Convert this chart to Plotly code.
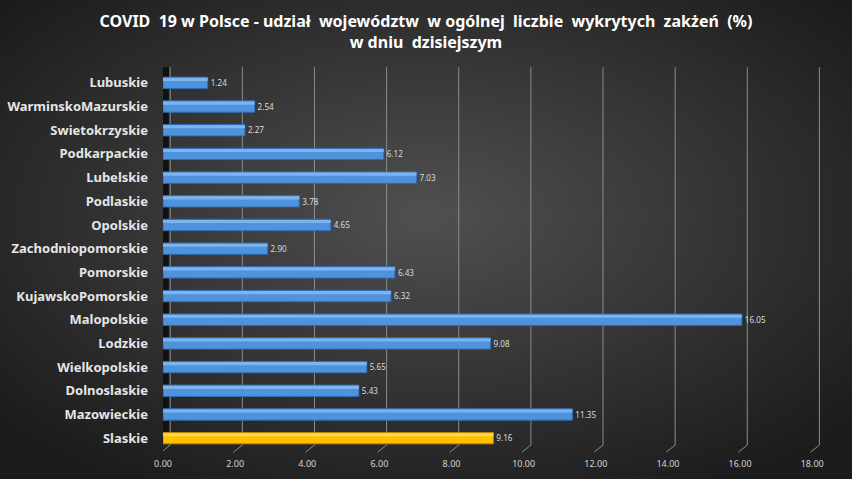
import plotly.graph_objects as go
import urllib.parse

regions = ["Lubuskie", "WarminskoMazurskie", "Swietokrzyskie", "Podkarpackie", "Lubelskie",
           "Podlaskie", "Opolskie", "Zachodniopomorskie", "Pomorskie", "KujawskoPomorskie",
           "Malopolskie", "Lodzkie", "Wielkopolskie", "Dolnoslaskie", "Mazowieckie", "Slaskie"]
shares = [1.24, 2.54, 2.27, 6.12, 7.03, 3.78, 4.65, 2.90, 6.43, 6.32,
          16.05, 9.08, 5.65, 5.43, 11.35, 9.16]
tick_vals = [0, 2, 4, 6, 8, 10, 12, 14, 16, 18]
tick_text = ["0.00", "2.00", "4.00", "6.00", "8.00", "10.00", "12.00", "14.00", "16.00", "18.00"]
highlight = "Slaskie"

colors = ["#ffc000" if r == highlight else "#4f93dc" for r in regions]
edges = ["#b88a00" if r == highlight else "#2f6db5" for r in regions]
shine = ["#ffd34d" if r == highlight else "#7bb4ee" for r in regions]

W, H = 852, 479
ML, MR, MT, MB = 163, 29, 71, 29
PW, PH = W - ML - MR, H - MT - MB

svg = ('<svg xmlns="http://www.w3.org/2000/svg" width="852" height="479" preserveAspectRatio="none">'
       '<defs><radialGradient id="g" cx="50%" cy="45%" r="65%">'
       '<stop offset="0%" stop-color="#505050"/><stop offset="100%" stop-color="#1c1c1c"/>'
       '</radialGradient></defs><rect width="852" height="479" fill="url(#g)"/></svg>')
bg_uri = "data:image/svg+xml;charset=utf-8," + urllib.parse.quote(svg)

fig = go.Figure()
fig.add_trace(go.Bar(
    y=regions, x=shares, orientation="h",
    marker=dict(color=colors, line=dict(color=edges, width=1)),
    width=0.48, offset=-0.24,
    text=[f"{v:.2f}" for v in shares], textposition="outside",
    textfont=dict(family="Noto Sans", size=10, color="#dcdcdc"),
    cliponaxis=False, hoverinfo="skip",
))
# lighter upper face for a bevelled look
fig.add_trace(go.Bar(
    y=regions, x=shares, orientation="h",
    marker=dict(color=shine, line=dict(width=0)),
    width=0.13, offset=-0.21,
    hoverinfo="skip",
))

shapes = []
for t in tick_vals:
    shapes.append(dict(type="line", xref="x", yref="paper", x0=t + 0.2, x1=t + 0.2,
                       y0=0.013, y1=1.01, line=dict(color="#8c8c8c", width=1), layer="below"))
    shapes.append(dict(type="line", xref="x", yref="paper", x0=t + 0.2, x1=t - 0.05,
                       y0=0.013, y1=-0.006, line=dict(color="#8c8c8c", width=1), layer="below"))
shapes.append(dict(type="rect", xref="x", yref="paper", x0=-0.06, x1=0.16, y0=0.02, y1=1.01,
                   fillcolor="#111111", line=dict(width=0), layer="below"))

fig.update_layout(
    width=W, height=H,
    margin=dict(l=ML, r=MR, t=MT, b=MB, autoexpand=False),
    paper_bgcolor="#303030", plot_bgcolor="rgba(0,0,0,0)",
    images=[dict(source=bg_uri, xref="paper", yref="paper",
                 x=-ML / PW, y=1 + MT / PH, sizex=W / PW, sizey=H / PH,
                 sizing="stretch", layer="below", xanchor="left", yanchor="top")],
    title=dict(text="<b>COVID  19 w Polsce - udział  województw  w ogólnej  liczbie  wykrytych  zakżeń  (%)</b><br><b>w dniu  dzisiejszym</b>",
               x=0.5, xref="container", xanchor="center", y=0.944, yanchor="top",
               font=dict(family="Noto Sans", size=16, color="#ffffff")),
    showlegend=False,
    barmode="overlay",
    shapes=shapes,
    font=dict(family="Noto Sans"),
)
fig.update_xaxes(range=[0, 18.3], tickvals=tick_vals, ticktext=tick_text, showgrid=False,
                 zeroline=False, showline=False, ticks="", ticklabelstandoff=7, automargin=False,
                 tickfont=dict(family="Noto Sans", size=9, color="#d4d4d4"), fixedrange=True)
fig.update_yaxes(categoryorder="array", categoryarray=regions, autorange="reversed",
                 showgrid=False, zeroline=False, showline=False, ticks="", ticklabelstandoff=14,
                 automargin=False,
                 tickfont=dict(family="Noto Sans", size=13, color="#e6e6e6", weight="bold"),
                 fixedrange=True)

fig.write_html("out.html", config={"displayModeBar": False, "staticPlot": True})

# remove default page margin so the figure sits at the window's top-left corner
with open("out.html", "r", encoding="utf-8") as f:
    html = f.read()
html = html.replace("<head>", "<head><style>html,body{margin:0;padding:0;background:#1c1c1c;overflow:hidden}</style>", 1)
with open("out.html", "w", encoding="utf-8") as f:
    f.write(html)
